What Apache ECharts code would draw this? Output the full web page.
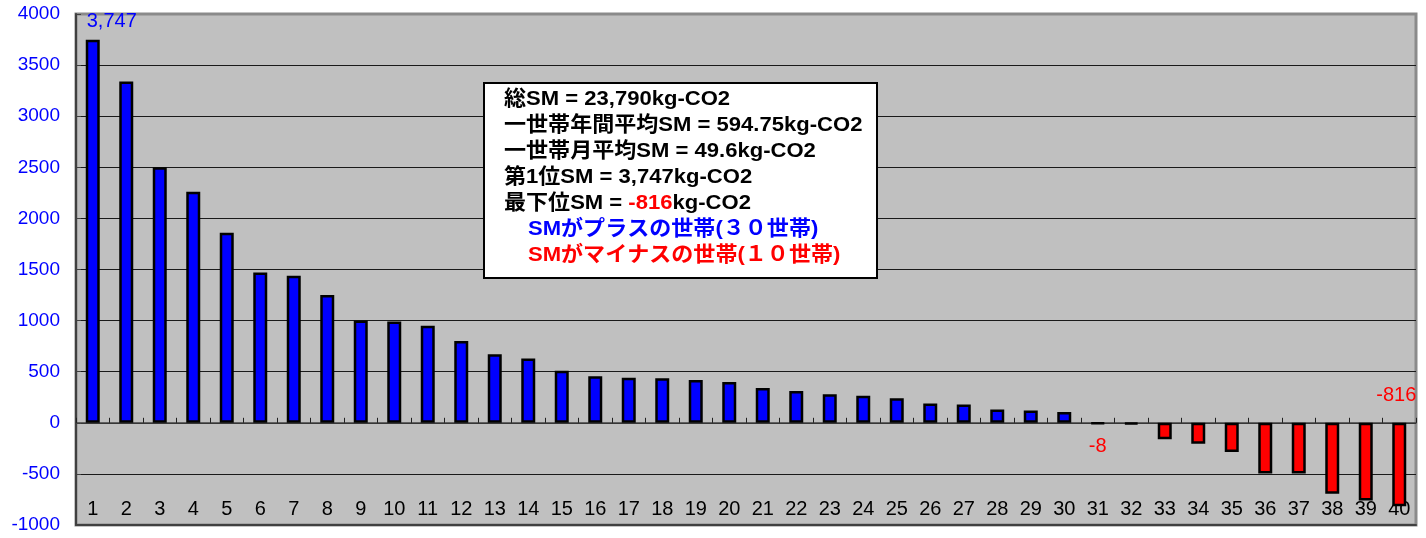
<!DOCTYPE html>
<html>
<head>
<meta charset="utf-8">
<script src="https://cdn.jsdelivr.net/npm/echarts@6/dist/echarts.min.js"></script>
<style>html,body{margin:0;padding:0;background:#fff;}#c{width:1426px;height:538px;}</style>
</head>
<body>
<div id="c"></div>
<script>
// ---- data ----
const categories = ['1','2','3','4','5','6','7','8','9','10','11','12','13','14','15','16','17','18','19','20',
  '21','22','23','24','25','26','27','28','29','30','31','32','33','34','35','36','37','38','39','40'];
const smValues = [3747, 3340, 2500, 2260, 1860, 1470, 1440, 1250, 1000, 990,
  950, 800, 670, 630, 510, 455, 442, 435, 418, 400,
  340, 310, 280, 265, 240, 190, 180, 130, 120, 105,
  -8, -12, -160, -205, -285, -495, -495, -695, -760, -816];
const yTicks = { min: -1000, max: 4000, interval: 500 };
const infoLines = [
  '総SM = 23,790kg-CO2',
  '一世帯年間平均SM = 594.75kg-CO2',
  '一世帯月平均SM = 49.6kg-CO2',
  '第1位SM = 3,747kg-CO2'
];
const lowestLine = ['最下位SM = ', '-816', 'kg-CO2'];
const plusLine = 'SMがプラスの世帯(３０世帯)';
const minusLine = 'SMがマイナスの世帯(１０世帯)';
// labelled bars: index -> placement
const labelled = { 0: 'first', 30: 'below', 39: 'above' };

const LAT = "'Liberation Sans', Arial, sans-serif";
const BOXFAM = "'Liberation Sans', 'Noto Sans CJK JP', sans-serif";

const barData = smValues.map((v, i) => {
  const item = {
    value: v,
    itemStyle: { color: v >= 0 ? '#0000FF' : '#FF0000' }
  };
  const kind = labelled[i];
  if (kind === 'first') {
    item.label = { show: true, position: 'top', distance: 8, offset: [19, 0], color: '#0000FF',
      formatter: p => p.value.toLocaleString('en-US') };
  } else if (kind === 'below') {
    item.label = { show: true, position: 'bottom', distance: 12, color: '#FF0000',
      formatter: p => String(p.value) };
  } else if (kind === 'above') {
    item.label = { show: true, position: 'top', distance: 17, offset: [-3, 0], color: '#FF0000',
      formatter: p => String(p.value) };
  }
  return item;
});

const chart = echarts.init(document.getElementById('c'), null, { renderer: 'canvas' });

const FONT = "bold 21px " + BOXFAM;
const SX = 1.05;
const graphics = [
  { type: 'rect', shape: { x: 484, y: 83, width: 393, height: 195 },
    style: { fill: '#fff', stroke: '#000', lineWidth: 2 }, z: 100 }
];
infoLines.forEach((t, i) => {
  graphics.push({ type: 'text', x: 504, y: 89 + i * 26, z: 101, scaleX: SX,
    style: { text: t, fill: '#000', font: FONT } });
});
graphics.push({ type: 'text', x: 504, y: 89 + 4 * 26, z: 101, scaleX: SX,
  style: { text: '{a|' + lowestLine[0] + '}{r|' + lowestLine[1] + '}{a|' + lowestLine[2] + '}',
    rich: { a: { fill: '#000', font: FONT }, r: { fill: '#FF0000', font: FONT } } } });
graphics.push({ type: 'text', x: 528, y: 89 + 5 * 26, z: 101, scaleX: SX,
  style: { text: plusLine, fill: '#0000FF', font: FONT } });
graphics.push({ type: 'text', x: 528, y: 89 + 6 * 26, z: 101, scaleX: SX,
  style: { text: minusLine, fill: '#FF0000', font: FONT } });

chart.setOption({
  animation: false,
  backgroundColor: '#ffffff',
  grid: { left: 76, right: 10, top: 14, bottom: 13, show: true,
    backgroundColor: '#C0C0C0', borderColor: '#8a8a8a', borderWidth: 3 },
  xAxis: [
    { type: 'category', data: categories, position: 'bottom',
      axisLine: { show: true, onZero: false, lineStyle: { color: '#404040', width: 2 } },
      axisTick: { show: false },
      axisLabel: { inside: true, margin: 6, color: '#000', fontSize: 20, fontFamily: LAT, interval: 0 },
      splitLine: { show: false } },
    { type: 'category', data: categories, position: 'bottom',
      axisLine: { show: true, onZero: true, lineStyle: { color: '#404040', width: 1.5 } },
      axisTick: { show: true, inside: true, length: 5, lineStyle: { color: '#202020', width: 1 } },
      axisLabel: { show: false }, splitLine: { show: false } }
  ],
  yAxis: {
    type: 'value', min: yTicks.min, max: yTicks.max, interval: yTicks.interval,
    axisLine: { show: true, lineStyle: { color: '#404040', width: 2 } },
    axisTick: { show: true, inside: true, length: 5, lineStyle: { color: '#404040' } },
    axisLabel: { color: '#0000FF', fontSize: 19, fontFamily: LAT, margin: 16, formatter: v => String(v) },
    splitLine: { show: true, showMinLine: false, showMaxLine: false, lineStyle: { color: '#1a1a1a', width: 1 } }
  },
  series: [{
    type: 'bar', xAxisIndex: 0, data: barData, barWidth: 14,
    itemStyle: { borderColor: '#000', borderWidth: 2.5 },
    label: { show: false, fontSize: 20, fontFamily: LAT }
  }],
  graphic: graphics
});
</script>
</body>
</html>
